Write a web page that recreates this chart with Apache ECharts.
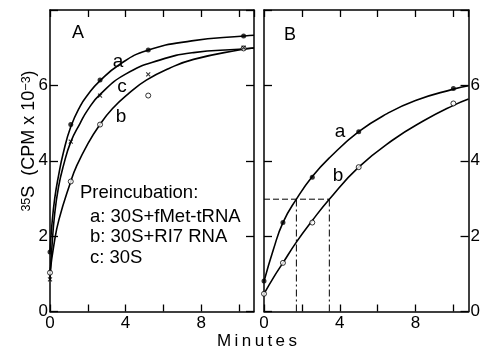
<!DOCTYPE html>
<html><head><meta charset="utf-8">
<script src="https://cdn.jsdelivr.net/npm/echarts@6/dist/echarts.min.js"></script>
<style>html,body{margin:0;padding:0;background:#fff}#c{width:483px;height:350px}</style>
</head><body><div id="c"></div>
<script>
// ---- Panel A: measured points (minutes, CPM x 10^-3)
const timesA = [0, 1.1, 2.65, 5.2, 10.25];
const markA_a = [1.58, 4.96, 6.14, 6.94, 7.31];   // a: 30S+fMet-tRNA (filled)
const markA_b = [1.03, 3.45, 4.96, 5.73, 6.98];   // b: 30S+R17 RNA (open)
const markA_c = [0.85, 4.51, 5.73, 6.29, 7.00];   // c: 30S (x)
// ---- Panel A: drawn curves
const curveA_a_t = [0, 0.1, 0.25, 0.45, 0.7, 1.1, 1.6, 2.0, 2.6, 3.7, 5.1, 7.5, 10.3, 10.8];
const curveA_a_v = [1.58, 2.3, 3.0, 3.6, 4.2, 4.9, 5.45, 5.75, 6.1, 6.56, 6.92, 7.18, 7.31, 7.33];
const curveA_c_t = [0, 0.1, 0.25, 0.45, 0.7, 1.1, 1.6, 2.0, 2.65, 4.0, 5.8, 7.6, 10.0, 10.8];
const curveA_c_v = [0.86, 1.7, 2.6, 3.3, 3.85, 4.5, 5.0, 5.35, 5.76, 6.3, 6.67, 6.87, 6.96, 6.99];
const curveA_b_t = [0, 0.2, 0.47, 1.1, 1.4, 2.0, 2.6, 3.3, 4.2, 5.1, 6.3, 7.6, 10.0, 10.8];
const curveA_b_v = [1.03, 1.75, 2.43, 3.45, 3.85, 4.45, 4.93, 5.38, 5.8, 6.14, 6.45, 6.69, 6.94, 6.99];
// ---- Panel B: measured points
const timesB = [0, 1.0, 2.55, 5.0, 10.0];
const markB_a = [0.81, 2.36, 3.56, 4.77, 5.92];
const markB_b = [0.47, 1.29, 2.36, 3.83, 5.52];
// ---- Panel B: drawn curves
const curveB_a_t = [0, 0.5, 1.0, 1.71, 2.55, 3.5, 5.0, 6.5, 8.0, 10.0, 10.8];
const curveB_a_v = [0.8, 1.65, 2.36, 2.98, 3.58, 4.1, 4.77, 5.25, 5.6, 5.9, 5.99];
const curveB_b_t = [0, 0.5, 1.0, 1.71, 2.53, 3.45, 5.0, 6.8, 8.5, 10.0, 10.8];
const curveB_b_v = [0.47, 0.9, 1.29, 1.84, 2.4, 2.98, 3.83, 4.55, 5.08, 5.47, 5.64];
// ---- Panel B: half-level guide lines
const halfLevel = 2.98;
const halfTimeA = 1.71;
const halfTimeB = 3.45;
// ---- axes
const xMax = 10.8, yMax = 8;
const xLabelsShown = [0, 4, 8];
const yLabelsShown = [0, 2, 4, 6];

const FONT = 'Liberation Sans';
const pair = (t, v) => t.map((x, i) => [x, v[i]]);
const crossSym = 'path://M0,0L10,10M10,0L0,10';

function xAx(grid, pos, labels) {
  return {type:'value', gridIndex:grid, position:pos, min:0, max:xMax, interval:2,
    axisLine:{show:true, onZero:false, lineStyle:{color:'#000', width:1.5}},
    axisTick:{show:true, inside:true, length:7, lineStyle:{color:'#000', width:1.3}},
    splitLine:{show:false},
    axisLabel:{show:labels, margin:3, color:'#000', fontFamily:FONT, fontSize:17, showMaxLabel:false,
      formatter: v => xLabelsShown.includes(v) ? String(v) : ''}};
}
function yAx(grid, pos, labels) {
  return {type:'value', gridIndex:grid, position:pos, min:0, max:yMax, interval:2,
    axisLine:{show:true, onZero:false, lineStyle:{color:'#000', width:1.5}},
    axisTick:{show:true, inside:true, length:8, lineStyle:{color:'#000', width:1.3}},
    splitLine:{show:false},
    axisLabel:{show:labels, margin:2, color:'#000', fontFamily:FONT, fontSize:17,
      formatter: v => yLabelsShown.includes(v) ? String(v) : ''}};
}
function curve(xi, yi, data) {
  return {type:'line', xAxisIndex:xi, yAxisIndex:yi, data:data, smooth:0.5,
    showSymbol:false, silent:true, lineStyle:{color:'#000', width:1.6}, z:2};
}
function marks(xi, yi, data, kind) {
  const s = {type:'scatter', xAxisIndex:xi, yAxisIndex:yi, data:data, silent:true, z:5};
  if (kind === 'filled') { s.symbol='circle'; s.symbolSize=5; s.itemStyle={color:'#000'}; }
  else if (kind === 'open') { s.symbol='circle'; s.symbolSize=5; s.itemStyle={color:'#fff', borderColor:'#000', borderWidth:1}; }
  else { s.symbol=crossSym; s.symbolSize=4; s.itemStyle={color:'none', borderColor:'#000', borderWidth:1.1}; }
  return s;
}
function guide(xi, yi, data, type) {
  return {type:'line', xAxisIndex:xi, yAxisIndex:yi, data:data, showSymbol:false, silent:true,
    lineStyle:{color:'#000', width:1, type:type}, z:1};
}
const txt = (x, y, text, size, align) => ({type:'text', x:x, y:y,
  style:{text:text, fill:'#000', font:`${size||18}px "${FONT}"`, align:align||'center', verticalAlign:'middle'}});

const chart = echarts.init(document.getElementById('c'), null, {renderer:'canvas'});
chart.setOption({
  animation:false,
  backgroundColor:'#fff',
  grid:[{left:50, top:10, width:204, height:301.5}, {left:264, top:10, width:207, height:301.5}],
  xAxis:[xAx(0,'bottom',true), xAx(0,'top',false), xAx(1,'bottom',true), xAx(1,'top',false)],
  yAxis:[yAx(0,'left',true), yAx(0,'right',false), yAx(1,'left',false), yAx(1,'right',true)],
  series:[
    curve(0,0,pair(curveA_a_t, curveA_a_v)),
    curve(0,0,pair(curveA_c_t, curveA_c_v)),
    curve(0,0,pair(curveA_b_t, curveA_b_v)),
    marks(0,0,pair(timesA, markA_a),'filled'),
    marks(0,0,pair(timesA, markA_b),'open'),
    marks(0,0,pair(timesA, markA_c),'cross'),
    curve(2,2,pair(curveB_a_t, curveB_a_v)),
    curve(2,2,pair(curveB_b_t, curveB_b_v)),
    marks(2,2,pair(timesB, markB_a),'filled'),
    marks(2,2,pair(timesB, markB_b),'open'),
    guide(2,2,[[0,halfLevel],[halfTimeB,halfLevel]],[6,3]),
    guide(2,2,[[halfTimeA,0],[halfTimeA,halfLevel]],[7,3,2,3]),
    guide(2,2,[[halfTimeB,0],[halfTimeB,halfLevel]],[7,3,2,3])
  ],
  graphic:[
    txt(78, 33, 'A', 18), txt(290, 35, 'B', 18),
    txt(118, 62, 'a', 19), txt(122, 87, 'c', 19), txt(121, 117, 'b', 19),
    txt(340, 132, 'a', 19), txt(338, 176, 'b', 19),
    txt(80, 193, 'Preincubation:', 18.5, 'left'),
    txt(90, 217, 'a: 30S+fMet-tRNA', 18.5, 'left'),
    txt(90, 237, 'b: 30S+RI7 RNA', 18.5, 'left'),
    txt(90, 258, 'c: 30S', 18.5, 'left'),
    txt(257, 341, 'M\u2009i\u2009n\u2009u\u2009t\u2009e\u2009s', 17),
    {type:'text', x:29, y:141, rotation:Math.PI/2,
      style:{text:'{sup|35}S  (CPM x 10{sup|\u22123})', fill:'#000', font:`18px "${FONT}"`,
        align:'center', verticalAlign:'middle',
        rich:{sup:{fontSize:12.5, fontFamily:FONT, verticalAlign:'top', fill:'#000'}}}}
  ]
});
</script></body></html>
